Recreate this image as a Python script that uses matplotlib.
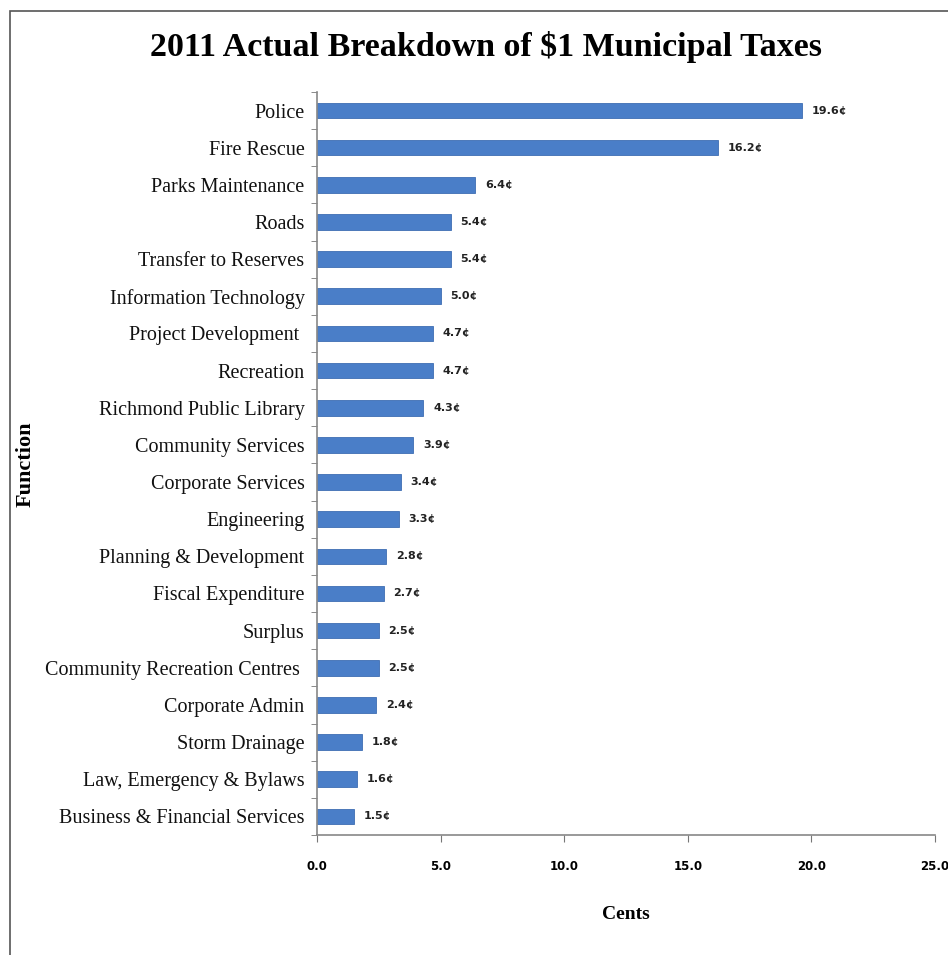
import matplotlib.pyplot as plt
from matplotlib.patches import Rectangle

functions = ['Police', 'Fire Rescue', 'Parks Maintenance', 'Roads', 'Transfer to Reserves',
             'Information Technology', 'Project Development ', 'Recreation',
             'Richmond Public Library', 'Community Services', 'Corporate Services',
             'Engineering', 'Planning & Development', 'Fiscal Expenditure', 'Surplus',
             'Community Recreation Centres ', 'Corporate Admin', 'Storm Drainage',
             'Law, Emergency & Bylaws', 'Business & Financial Services']
cents = [19.6, 16.2, 6.4, 5.4, 5.4, 5.0, 4.7, 4.7, 4.3, 3.9,
         3.4, 3.3, 2.8, 2.7, 2.5, 2.5, 2.4, 1.8, 1.6, 1.5]
x_ticks = [0, 5, 10, 15, 20, 25]

serif = 'Liberation Serif'

fig = plt.figure(figsize=(9.48, 9.55), dpi=100)
ax = fig.add_axes([0.3344, 0.1257, 0.652, 0.778])

pos = list(range(len(functions)))
ax.barh(pos, cents, height=0.42, color='#4A7EC8', edgecolor='#3E6DB3', linewidth=0.6)
ax.set_ylim(len(functions) - 0.5, -0.5)
ax.set_xlim(0, 25)

for p, v in zip(pos, cents):
    ax.annotate(f'{v:.1f}\u00a2', (v, p), xytext=(7, 0), textcoords='offset points',
                va='center', ha='left', fontsize=8, fontweight='bold', family='DejaVu Sans',
                color='#222222')

ax.set_yticks(pos)
ax.set_yticklabels(functions, family=serif, fontsize=14.5, color='#111111')
ax.set_yticks([p - 0.5 for p in pos] + [len(functions) - 0.5], minor=True)
ax.tick_params(axis='y', which='major', length=0, pad=9)
ax.tick_params(axis='y', which='minor', length=4, color='#777777', direction='out')

ax.set_xticks(x_ticks)
ax.set_xticklabels([f'{t:.1f}' for t in x_ticks], fontsize=8.5, fontweight='bold', family='DejaVu Sans')
ax.tick_params(axis='x', length=5, color='#777777', direction='out', pad=13)

for s in ['top', 'right']:
    ax.spines[s].set_visible(False)
for s in ['left', 'bottom']:
    ax.spines[s].set_color('#888888')
    ax.spines[s].set_linewidth(1.2)

ax.set_xlabel('Cents', family=serif, fontsize=14, fontweight='bold', labelpad=24)
fig.text(0.027, 0.514, 'Function', rotation=90, family=serif, fontsize=16, fontweight='bold',
         va='center', ha='center')

fig.suptitle('2011 Actual Breakdown of $1 Municipal Taxes', x=0.513, y=0.968,
             family=serif, fontsize=24.5, fontweight='bold')

# page frame around the chart
fig.patches.append(Rectangle((0.011, -0.01), 1.0, 0.999, transform=fig.transFigure,
                             fill=False, edgecolor='#555555', linewidth=1.2))

fig.savefig('out.png', dpi=100)
